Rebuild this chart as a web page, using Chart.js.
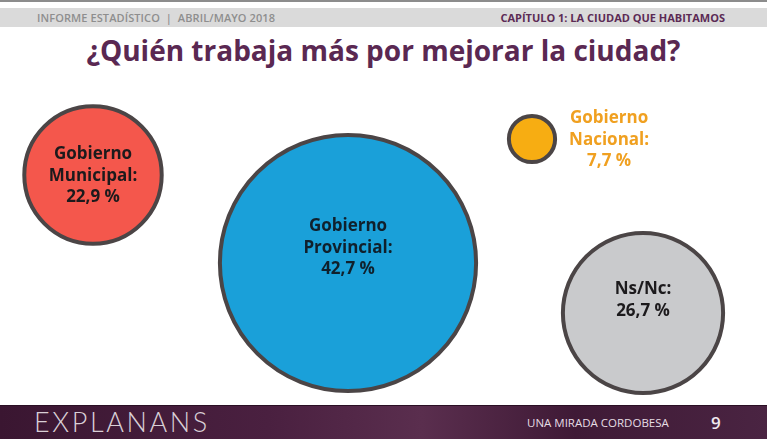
<!DOCTYPE html>
<html lang="es">
<head>
<meta charset="UTF-8">
<title>¿Quién trabaja más por mejorar la ciudad?</title>
<script src="https://cdn.jsdelivr.net/npm/chart.js@4.4.1/dist/chart.umd.min.js"></script>
<style>
    html, body { margin: 0; padding: 0; background: #fff; }
    .page { position: relative; width: 767px; height: 439px; overflow: hidden; font-family: "Open Sans", sans-serif; }
    .topline { position: absolute; left: 0; top: 0; width: 767px; height: 2px; background: #8c8c8c; }
    .header { position: absolute; left: 0; top: 8px; width: 767px; height: 19px; background: #dadada; }
    .header .left { position: absolute; left: 37px; top: 2px; font-size: 11px; font-weight: 600; color: #8e8e8e; letter-spacing: 0.1px; }
    .header .right { position: absolute; right: 42px; top: 2px; font-size: 11px; font-weight: 700; color: #5c2b55; }
    h1 { position: absolute; left: 0; top: 31px; width: 767px; margin: 0; text-align: center; font-size: 28px; font-weight: 700; color: #5a2852; }
    canvas { position: absolute; left: 0; top: 0; }
    .footer { position: absolute; left: 0; top: 405px; width: 767px; height: 34px;
        background: linear-gradient(90deg, #3a1631 0%, #4a2040 35%, #5a2e4e 55%, #3f1a36 75%, #4a2442 100%);
        border-top: 1px solid #2a0f24; }
    .footer .brand { position: absolute; left: 34px; top: -1px; font-family: "Lato", sans-serif; font-weight: 300; font-size: 27px; color: #d9cfd6; letter-spacing: 2.6px; }
    .footer .slogan { position: absolute; left: 527px; top: 9px; font-size: 11.5px; color: #e6dde4; font-weight: 400; }
    .footer .num { position: absolute; left: 711px; top: 5px; font-size: 17px; color: #f0e8ee; font-weight: 600; }
</style>
</head>
<body>
<div class="page">
    <div class="topline"></div>
    <div class="header">
        <span class="left">INFORME ESTADÍSTICO &nbsp;|&nbsp; ABRIL/MAYO 2018</span>
        <span class="right">CAPÍTULO 1: LA CIUDAD QUE HABITAMOS</span>
    </div>
    <h1>¿Quién trabaja más por mejorar la ciudad?</h1>
    <div class="footer">
        <span class="brand">EXPLANANS</span>
        <span class="slogan">UNA MIRADA CORDOBESA</span>
        <span class="num">9</span>
    </div>
    <canvas id="myChart" width="767" height="439"></canvas>
</div>
<script>
// data
var categories = ['Gobierno Municipal', 'Gobierno Provincial', 'Gobierno Nacional', 'Ns/Nc'];
var labelLines = [['Gobierno', 'Municipal:'], ['Gobierno', 'Provincial:'], ['Gobierno', 'Nacional:'], ['Ns/Nc:']];
var values = [22.9, 42.7, 7.7, 26.7];

// layout (where each bubble sits on the slide, in page units)
var posX = [93, 348, 532, 643];
var posY = [175, 263, 139, 313];
var fills = ['#f4574c', '#1aa0d9', '#f7ad12', '#c9cacc'];
var textColors = ['#1c1a1c', '#10202c', '#f0a020', '#1c1a1c'];
var labelShiftY = [1, -15, 1, -13];
var pxPerPoint = 3;

function fmt(v) {
    return v.toFixed(1).replace('.', ',') + ' %';
}

var bubbleLabels = {
    id: 'bubbleLabels',
    afterDatasetsDraw: function(chart) {
        var ctx = chart.ctx;
        var meta = chart.getDatasetMeta(0);
        ctx.save();
        ctx.font = '700 17px "Open Sans", sans-serif';
        ctx.textAlign = 'center';
        ctx.textBaseline = 'middle';
        meta.data.forEach(function(el, i) {
            var lines = labelLines[i].concat([fmt(values[i])]);
            var cx = el.x;
            var cy = el.y + labelShiftY[i];
            if (i === 2) {
                // small bubble: label sits to the right
                cx = el.x + el.options.radius + 54;
            }
            var lh = 21.5;
            var start = cy - (lines.length - 1) * lh / 2;
            ctx.fillStyle = textColors[i];
            lines.forEach(function(t, j) {
                ctx.fillText(t, cx, start + j * lh);
            });
        });
        ctx.restore();
    }
};

var ctx = document.getElementById('myChart').getContext('2d');
var chart = new Chart(ctx, {
    type: 'bubble',
    data: {
        datasets: [{
            label: '¿Quién trabaja más por mejorar la ciudad?',
            data: values.map(function(v, i) {
                return { x: posX[i], y: posY[i], r: v * pxPerPoint };
            }),
            backgroundColor: fills,
            borderColor: '#4b4546',
            borderWidth: 4,
            hoverBorderWidth: 4,
            clip: false
        }]
    },
    options: {
        responsive: false,
        animation: false,
        events: [],
        layout: { padding: 0, autoPadding: false },
        scales: {
            x: { type: 'linear', min: 0, max: 767, display: false },
            y: { type: 'linear', min: 0, max: 439, reverse: true, display: false }
        },
        plugins: {
            legend: { display: false },
            tooltip: { enabled: false }
        }
    },
    plugins: [bubbleLabels]
});
</script>
</body>
</html>
